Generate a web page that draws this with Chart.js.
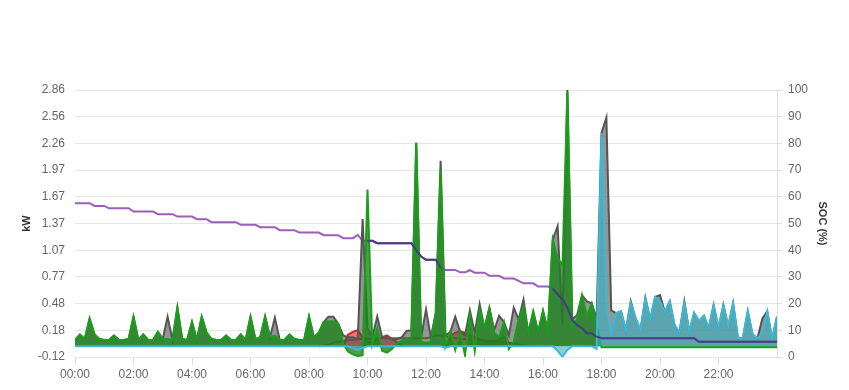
<!DOCTYPE html>
<html>
<head>
<meta charset="utf-8">
<script src="https://cdn.jsdelivr.net/npm/chart.js@4.4.0/dist/chart.umd.min.js"></script>
<style>
  html, body { margin: 0; padding: 0; background: #fff; }
  #wrap { width: 849px; height: 390px; }
</style>
</head>
<body>
<div id="wrap"><canvas id="chart"></canvas></div>
<script>
/* global Chart */

// one sample every 10 minutes, 00:00 .. 24:00
const STEP_HOURS = 1 / 6;

const kwTicks = [-0.12, 0.18, 0.48, 0.77, 1.07, 1.37, 1.67, 1.97, 2.26, 2.56, 2.86];

// battery (kW)
const battery = [
  0.07, 0.13, 0.08, 0.31, 0.13, 0.08,
  0.07, 0.07, 0.12, 0.07, 0.07, 0.08,
  0.33, 0.07, 0.13, 0.07, 0.07, 0.16,
  0.08, 0.08, 0.07, 0.43, 0.08, 0.07,
  0.27, 0.07, 0.33, 0.15, 0.08, 0.07,
  0.07, 0.12, 0.07, 0.07, 0.13, 0.07,
  0.33, 0.08, 0.1, 0.33, 0.1, 0.12,
  0.07, 0.07, 0.13, 0.08, 0.07, 0.07,
  0.33, 0.1, 0.15, 0.27, 0.28, 0.28,
  0.25, 0.03, -0.06, -0.09, -0.11, -0.1,
  1.75, 0.02, 0.2, -0.05, -0.07, -0.03,
  0.03, 0.06, 0.08, 0.1, 2.27, 0.05,
  0.04, 0.05, 0.37, 1.97, 0.0, 0.16,
  -0.04, 0.16, -0.1, 0.35, -0.05, 0.41,
  0.2, 0.42, 0.15, 0.1, 0.27, -0.03,
  0.05, 0.3, 0.44, 0.15, 0.39, 0.16,
  0.4, 0.16, 1.19, 0.98, 0.91, 2.84,
  0.22, 0.3, 0.57, 0.34, 0.48, 0.25,
  -0.01, -0.01, -0.01, -0.01, -0.01, -0.01,
  -0.01, -0.01, -0.01, -0.01, -0.01, -0.01,
  -0.01, -0.01, -0.01, -0.01, -0.01, -0.01,
  -0.01, -0.01, -0.01, -0.01, -0.01, -0.01,
  -0.01, -0.01, -0.01, -0.01, -0.01, -0.01,
  -0.01, -0.01, -0.01, -0.01, -0.01, -0.01,
  -0.01
];

// load (kW)
const load = [
  0.07, 0.13, 0.08, 0.31, 0.13, 0.08,
  0.07, 0.07, 0.12, 0.07, 0.07, 0.08,
  0.33, 0.07, 0.13, 0.07, 0.07, 0.16,
  0.08, 0.33, 0.07, 0.43, 0.08, 0.07,
  0.27, 0.07, 0.33, 0.15, 0.08, 0.07,
  0.07, 0.12, 0.07, 0.07, 0.13, 0.07,
  0.33, 0.08, 0.1, 0.33, 0.1, 0.32,
  0.07, 0.07, 0.13, 0.08, 0.07, 0.07,
  0.33, 0.1, 0.15, 0.27, 0.33, 0.33,
  0.25, 0.12, 0.1, 0.1, 0.08, 1.42,
  0.2, 0.1, 0.33, 0.1, 0.1, 0.08,
  0.08, 0.1, 0.17, 0.18, 2.27, 0.1,
  0.41, 0.1, 0.37, 2.07, 0.12, 0.16,
  0.33, 0.16, 0.12, 0.4, 0.15, 0.47,
  0.2, 0.43, 0.18, 0.34, 0.27, 0.12,
  0.43, 0.3, 0.52, 0.15, 0.38, 0.16,
  0.39, 0.18, 1.19, 1.34, 0.24, 2.86,
  0.3, 0.35, 0.57, 0.5, 0.48, 0.3,
  2.38, 2.55, 0.4, 0.37, 0.39, 0.18,
  0.5, 0.31, 0.18, 0.54, 0.3, 0.55,
  0.57, 0.38, 0.5, 0.23, 0.16, 0.5,
  0.16, 0.37, 0.28, 0.34, 0.2, 0.46,
  0.2, 0.46, 0.22, 0.48, 0.09, 0.09,
  0.39, 0.13, 0.09, 0.31, 0.39, 0.08,
  0.33
];

// grid (kW)
const grid = [
  0, 0, 0, 0, 0, 0,
  0, 0, 0, 0, 0, 0,
  0, 0, 0, 0, 0, 0,
  0, 0, 0, 0, 0, 0,
  0, 0, 0, 0, 0, 0,
  0, 0, 0, 0, 0, 0,
  0, 0, 0, 0, 0, 0,
  0, 0, 0, 0, 0, 0,
  0, 0, 0, 0, 0, 0,
  0, 0, 0, -0.02, -0.04, -0.02,
  0, 0, 0, 0, 0, 0,
  0, 0, 0, 0, 0, 0,
  0, 0, 0, 0, -0.02, 0,
  0, 0, 0, 0, 0, 0,
  0, 0, 0, 0, 0, 0,
  0, 0, 0, 0, 0, 0,
  0, 0, 0, -0.05, -0.12, -0.04,
  0, 0, 0, 0, 0, -0.03,
  2.38, 0.44, 0.15, 0.37, 0.39, 0.18,
  0.48, 0.31, 0.18, 0.54, 0.3, 0.55,
  0.5, 0.38, 0.5, 0.23, 0.16, 0.48,
  0.16, 0.37, 0.28, 0.34, 0.2, 0.46,
  0.2, 0.46, 0.22, 0.48, 0.09, 0.09,
  0.39, 0.13, 0.09, 0.15, 0.39, 0.08,
  0.33
];

// pv surplus (kW)
const surplus = [
  null, null, null, null, null, null,
  null, null, null, null, null, null,
  null, null, null, null, null, null,
  null, null, null, null, null, null,
  null, null, null, null, null, null,
  null, null, null, null, null, null,
  null, null, null, null, null, null,
  null, null, null, null, null, null,
  null, null, null, null, null, null,
  null, 0, 0.13, 0.16, 0.18, 0.1,
  0.05, 0.05, 0.08, 0.1, 0.12, 0.08,
  0.05, 0, null, null, null, null,
  null, null, null, null, 0, 0.12,
  0.15, 0.17, 0.15, 0.12, 0.1, 0.08,
  0.06, 0.05, 0.05, 0.08, 0.1, 0.04,
  0, null, null, null, null, null,
  null, null, null, null, null, null,
  null, null, null, null, null, null,
  null, null, null, null, null, null,
  null, null, null, null, null, null,
  null, null, null, null, null, null,
  null, null, null, null, null, null,
  null, null, null, null, null, null,
  null, null, null, null, null, null,
  null
];

// pv (kW)
const pv = [
  null, null, null, null, null, null,
  null, null, null, null, null, null,
  null, null, null, null, null, null,
  null, null, null, null, null, null,
  null, null, null, null, null, null,
  null, null, null, null, null, null,
  null, null, null, null, null, null,
  null, null, null, null, null, null,
  null, null, 0, 0.01, 0.02, 0.04,
  0.05, 0.06, 0.07, 0.07, 0.08, 0.08,
  0.08, 0.08, 0.09, 0.09, 0.09, 0.09,
  0.09, 0.09, 0.09, 0.09, 0.09, 0.09,
  0.09, 0.1, 0.12, 0.12, 0.11, 0.1,
  0.09, 0.08, 0.08, 0.08, 0.07, 0.07,
  0.07, 0.06, 0.06, 0.05, 0.04, 0.04,
  0.03, 0.02, 0.01, 0, null, null,
  null, null, null, null, null, null,
  null, null, null, null, null, null,
  null, null, null, null, null, null,
  null, null, null, null, null, null,
  null, null, null, null, null, null,
  null, null, null, null, null, null,
  null, null, null, null, null, null,
  null, null, null, null, null, null,
  null
];

// state of charge (%)
const soc = [
  57.6, 57.6, 57.6, 57.6, 56.6, 56.6,
  56.6, 55.7, 55.7, 55.7, 55.7, 55.7,
  54.5, 54.5, 54.5, 54.5, 54.5, 53.5,
  53.5, 53.5, 53.5, 52.6, 52.6, 52.6,
  52.6, 51.6, 51.6, 51.6, 50.5, 50.5,
  50.5, 50.5, 50.5, 50.5, 49.5, 49.5,
  49.5, 49.5, 48.6, 48.6, 48.6, 48.6,
  47.5, 47.5, 47.5, 47.5, 46.6, 46.6,
  46.6, 46.6, 46.6, 45.6, 45.6, 45.6,
  45.6, 44.5, 44.5, 44.5, 45.7, 43.5,
  43.5, 43.5, 42.6, 42.6, 42.6, 42.6,
  42.6, 42.6, 42.6, 42.6, 40.0, 37.6,
  36.4, 36.4, 36.4, 33.5, 32.6, 32.6,
  32.6, 31.7, 31.7, 32.5, 31.6, 31.6,
  31.6, 30.4, 30.4, 30.4, 29.4, 29.4,
  29.4, 28.5, 27.6, 27.6, 27.6, 26.4,
  26.4, 26.4, 25.6, 23.5, 21.5, 18.5,
  13.9, 12, 10.8, 8.9, 8.9, 7.6,
  7, 7, 7, 7, 7, 7,
  7, 7, 7, 7, 7, 7,
  7, 7, 7, 7, 7, 7,
  7, 7, 5.7, 5.7, 5.7, 5.7,
  5.7, 5.7, 5.7, 5.7, 5.7, 5.7,
  5.7, 5.7, 5.7, 5.7, 5.7, 5.7,
  5.7
];

// hours where the soc line is drawn dark
const darkSpans = [[10, 12.5], [16.33, 24]];

const pts = arr => arr.map((v, i) => ({ x: i * STEP_HOURS, y: v }));
const socDark = soc.map((v, i) => {
  const t = i * STEP_HOURS;
  return darkSpans.some(([a, b]) => t >= a - 0.01 && t <= b + 0.01) ? v : null;
});

Chart.defaults.font.family = 'Arial, "Liberation Sans", Helvetica, sans-serif';
Chart.defaults.font.size = 12;
Chart.defaults.color = '#666';

const line = (data, color, extra) => Object.assign({
  data: pts(data),
  borderColor: color,
  borderWidth: 2,
  pointRadius: 0,
  tension: 0,
  spanGaps: false,
  yAxisID: 'y'
}, extra);

new Chart(document.getElementById('chart').getContext('2d'), {
  type: 'line',
  data: {
    datasets: [
      line(socDark, 'rgb(72, 58, 132)', { label: 'SOC', yAxisID: 'y1', fill: false }),
      line(grid, 'rgb(58, 186, 214)', { label: 'Grid', fill: 'origin', backgroundColor: 'rgba(55, 175, 190, 0.6)' }),
      line(battery, 'rgb(24, 160, 24)', { label: 'Battery', fill: 'origin', backgroundColor: 'rgba(30, 130, 30, 0.78)' }),
      line(load, 'rgb(85, 85, 85)', { label: 'Load', fill: 'origin', backgroundColor: 'rgba(80, 80, 80, 0.6)' }),
      line(pv, 'rgb(112, 98, 36)', { label: 'PV', fill: false }),
      line(surplus, 'rgb(222, 30, 30)', { label: 'Surplus', fill: 'origin', backgroundColor: 'rgba(225, 45, 45, 0.65)' }),
      line(soc, 'rgb(155, 95, 185)', { label: 'SOC', yAxisID: 'y1', fill: false })
    ]
  },
  options: {
    responsive: true,
    maintainAspectRatio: false,
    animation: false,
    layout: { padding: { top: 90, left: 0, right: 0, bottom: 0 } },
    plugins: {
      legend: { display: false },
      tooltip: { enabled: false }
    },
    scales: {
      x: {
        type: 'linear',
        min: 0,
        max: 24,
        afterFit: s => { s.height = 33; },
        ticks: {
          stepSize: 2,
          autoSkip: false,
          maxRotation: 0,
          padding: 2,
          color: '#666',
          callback: v => (v >= 24 ? null : String(v).padStart(2, '0') + ':00')
        },
        grid: { drawOnChartArea: false, drawTicks: true, tickLength: 8, color: '#dcdcdc' },
        border: { display: true, color: '#e6e6e6' }
      },
      y: {
        position: 'left',
        min: kwTicks[0],
        max: kwTicks[kwTicks.length - 1],
        afterFit: s => { s.width = 75; },
        afterBuildTicks: s => {
          const n = kwTicks.length;
          s.ticks = kwTicks.map((v, i) => ({ value: s.min + (s.max - s.min) * i / (n - 1) }));
        },
        ticks: {
          padding: 10,
          color: '#666',
          callback: (v, i) => kwTicks[i].toFixed(2)
        },
        grid: { color: '#e6e6e6', drawTicks: false },
        border: { display: false },
        title: { display: true, text: 'kW', color: '#333', font: { size: 11, weight: 'bold' }, padding: { top: 20 } }
      },
      y1: {
        position: 'right',
        min: 0,
        max: 100,
        afterFit: s => { s.width = 72; },
        ticks: { stepSize: 10, padding: 6, color: '#666' },
        grid: { drawOnChartArea: false, drawTicks: true, tickLength: 5, color: '#dcdcdc' },
        border: { display: true, color: '#dcdcdc' },
        title: { display: true, text: 'SOC (%)', color: '#333', font: { size: 11, weight: 'bold' }, padding: { top: 20 } }
      }
    }
  }
});
</script>
</body>
</html>
